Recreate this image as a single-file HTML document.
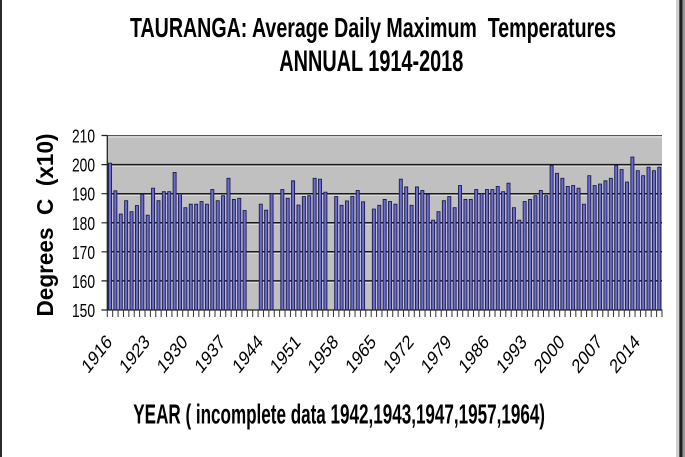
<!DOCTYPE html>
<html>
<head>
<meta charset="utf-8">
<style>
html,body{margin:0;padding:0;background:#fff}
svg{display:block}
text{font-family:"Liberation Sans",Arial,sans-serif;fill:#000}
.bars{vector-effect:non-scaling-stroke}
</style>
</head>
<body>
<svg xmlns="http://www.w3.org/2000/svg" width="685" height="457" viewBox="0 0 685 457">
<rect x="0" y="0" width="685" height="457" fill="#fff"/>
<rect x="0" y="0" width="2" height="457" fill="#2a2a2a"/>
<rect x="676" y="0" width="3.3" height="457" fill="#d0d0d0"/>
<rect x="679.3" y="0" width="3.4" height="457" fill="#202020"/>
<rect x="682.7" y="0" width="2.3" height="457" fill="#9a9a9a"/>

<g transform="translate(0,37) scale(1,1.08)">
<text x="130" y="0" font-size="26" font-weight="bold" textLength="486" lengthAdjust="spacingAndGlyphs" style="white-space:pre">TAURANGA: Average Daily Maximum  Temperatures</text>
</g>
<g transform="translate(0,71) scale(1,1.08)">
<text x="279.3" y="0" font-size="27" font-weight="bold" textLength="184" lengthAdjust="spacingAndGlyphs">ANNUAL 1914-2018</text>
</g>

<rect x="107.3" y="135.5" width="554.7" height="174.5" fill="#c0c0c0"/>
<line x1="107.3" y1="135.5" x2="662" y2="135.5" stroke="#555" stroke-width="1"/>
<path d="M107.3 137H662M107.3 166.1H662M107.3 195.2H662M107.3 224.3H662M107.3 253.3H662M107.3 282.4H662" stroke="#fff" stroke-width="1" opacity="0.55"/>
<path d="M107.3 164.6H662M107.3 193.7H662M107.3 222.8H662M107.3 251.8H662M107.3 280.9H662" stroke="#1a1a1a" stroke-width="1.5"/>

<g transform="translate(107.3,310) scale(5.3854,-2.908)">
<path class="bars" fill="#6b6bd6" stroke="#1c1c48" stroke-width="0.9" d="
M0.22 0V50.5h.56V0z M1.22 0V41h.56V0z M2.22 0V33h.56V0z M3.22 0V37.6h.56V0z M4.22 0V33.8h.56V0z
M5.22 0V35.9h.56V0z M6.22 0V39.8h.56V0z M7.22 0V32.6h.56V0z M8.22 0V41.9h.56V0z M9.22 0V37.6h.56V0z
M10.22 0V40.7h.56V0z M11.22 0V40.7h.56V0z M12.22 0V47.3h.56V0z M13.22 0V40h.56V0z M14.22 0V35.2h.56V0z
M15.22 0V36.4h.56V0z M16.22 0V36.4h.56V0z M17.22 0V37.3h.56V0z M18.22 0V36.4h.56V0z M19.22 0V41.4h.56V0z
M20.22 0V37.6h.56V0z M21.22 0V39.3h.56V0z M22.22 0V45.3h.56V0z M23.22 0V38h.56V0z M24.22 0V38.4h.56V0z
M25.22 0V34.2h.56V0z M28.22 0V36.4h.56V0z M29.22 0V34.3h.56V0z M30.22 0V40h.56V0z
M32.22 0V41.4h.56V0z M33.22 0V38.4h.56V0z M34.22 0V44.4h.56V0z M35.22 0V36.1h.56V0z M36.22 0V39h.56V0z
M37.22 0V39.3h.56V0z M38.22 0V45.3h.56V0z M39.22 0V45h.56V0z M40.22 0V40.5h.56V0z
M42.22 0V39h.56V0z M43.22 0V36h.56V0z M44.22 0V37.5h.56V0z M45.22 0V39.1h.56V0z M46.22 0V41.1h.56V0z
M47.22 0V37.2h.56V0z M49.22 0V34.7h.56V0z M50.22 0V36h.56V0z M51.22 0V38h.56V0z M52.22 0V37.3h.56V0z
M53.22 0V36.4h.56V0z M54.22 0V45h.56V0z M55.22 0V42.3h.56V0z M56.22 0V36h.56V0z M57.22 0V42.3h.56V0z
M58.22 0V41.1h.56V0z M59.22 0V39.8h.56V0z M60.22 0V30.9h.56V0z M61.22 0V33.8h.56V0z M62.22 0V37.6h.56V0z
M63.22 0V39h.56V0z M64.22 0V35.2h.56V0z M65.22 0V42.8h.56V0z M66.22 0V38h.56V0z M67.22 0V38h.56V0z
M68.22 0V41.4h.56V0z M69.22 0V40h.56V0z M70.22 0V41.4h.56V0z M71.22 0V41.4h.56V0z M72.22 0V42.5h.56V0z
M73.22 0V40.7h.56V0z M74.22 0V43.6h.56V0z M75.22 0V35.2h.56V0z M76.22 0V30.9h.56V0z M77.22 0V37.3h.56V0z
M78.22 0V38h.56V0z M79.22 0V39.3h.56V0z M80.22 0V41.1h.56V0z M81.22 0V39.3h.56V0z M82.22 0V49.7h.56V0z
M83.22 0V47h.56V0z M84.22 0V45.3h.56V0z M85.22 0V42.5h.56V0z M86.22 0V42.8h.56V0z M87.22 0V41.9h.56V0z
M88.22 0V36.4h.56V0z M89.22 0V46.2h.56V0z M90.22 0V42.8h.56V0z M91.22 0V43.3h.56V0z M92.22 0V44.4h.56V0z
M93.22 0V45.3h.56V0z M94.22 0V49.7h.56V0z M95.22 0V48.3h.56V0z M96.22 0V44h.56V0z M97.22 0V52.6h.56V0z
M98.22 0V47.9h.56V0z M99.22 0V46.2h.56V0z M100.22 0V49.1h.56V0z M101.22 0V47.9h.56V0z M102.22 0V49.1h.56V0z"/>
</g>

<line x1="107.3" y1="135.5" x2="107.3" y2="310.5" stroke="#222" stroke-width="1.3"/>
<line x1="107.3" y1="310" x2="662.5" y2="310" stroke="#222" stroke-width="1.3"/>
<path d="M101.5 135.5H107.3M101.5 164.6H107.3M101.5 193.7H107.3M101.5 222.8H107.3M101.5 251.8H107.3M101.5 280.9H107.3M101.5 310H107.3" stroke="#222" stroke-width="1.2"/>
<line x1="106.8" y1="313.5" x2="663" y2="313.5" stroke="#333" stroke-width="7" stroke-dasharray="1 4.3854"/>

<g font-size="16.5" text-anchor="end">
<text transform="translate(95,142.5) scale(1,1.12)" textLength="23" lengthAdjust="spacingAndGlyphs">210</text>
<text transform="translate(95,171.6) scale(1,1.12)" textLength="23" lengthAdjust="spacingAndGlyphs">200</text>
<text transform="translate(95,200.7) scale(1,1.12)" textLength="23" lengthAdjust="spacingAndGlyphs">190</text>
<text transform="translate(95,229.8) scale(1,1.12)" textLength="23" lengthAdjust="spacingAndGlyphs">180</text>
<text transform="translate(95,258.8) scale(1,1.12)" textLength="23" lengthAdjust="spacingAndGlyphs">170</text>
<text transform="translate(95,287.9) scale(1,1.12)" textLength="23" lengthAdjust="spacingAndGlyphs">160</text>
<text transform="translate(95,317) scale(1,1.12)" textLength="23" lengthAdjust="spacingAndGlyphs">150</text>
</g>

<text transform="translate(53,225) rotate(-90)" text-anchor="middle" font-size="23" font-weight="bold" textLength="183" lengthAdjust="spacingAndGlyphs" style="white-space:pre">Degrees  C  (x10)</text>

<g font-size="20" text-anchor="end">
<text transform="translate(113.0,343) scale(0.79,1) rotate(-45)">1916</text>
<text transform="translate(150.7,343) scale(0.79,1) rotate(-45)">1923</text>
<text transform="translate(188.4,343) scale(0.79,1) rotate(-45)">1930</text>
<text transform="translate(226.1,343) scale(0.79,1) rotate(-45)">1937</text>
<text transform="translate(263.8,343) scale(0.79,1) rotate(-45)">1944</text>
<text transform="translate(301.5,343) scale(0.79,1) rotate(-45)">1951</text>
<text transform="translate(339.2,343) scale(0.79,1) rotate(-45)">1958</text>
<text transform="translate(376.9,343) scale(0.79,1) rotate(-45)">1965</text>
<text transform="translate(414.6,343) scale(0.79,1) rotate(-45)">1972</text>
<text transform="translate(452.3,343) scale(0.79,1) rotate(-45)">1979</text>
<text transform="translate(490.0,343) scale(0.79,1) rotate(-45)">1986</text>
<text transform="translate(527.7,343) scale(0.79,1) rotate(-45)">1993</text>
<text transform="translate(565.4,343) scale(0.79,1) rotate(-45)">2000</text>
<text transform="translate(603.1,343) scale(0.79,1) rotate(-45)">2007</text>
<text transform="translate(640.8,343) scale(0.79,1) rotate(-45)">2014</text>
</g>

<g transform="translate(0,423.3) scale(1,1.08)">
<text x="133.3" y="0" font-size="25.5" font-weight="bold" textLength="411.7" lengthAdjust="spacingAndGlyphs">YEAR ( incomplete data 1942,1943,1947,1957,1964)</text>
</g>
</svg>
</body>
</html>
